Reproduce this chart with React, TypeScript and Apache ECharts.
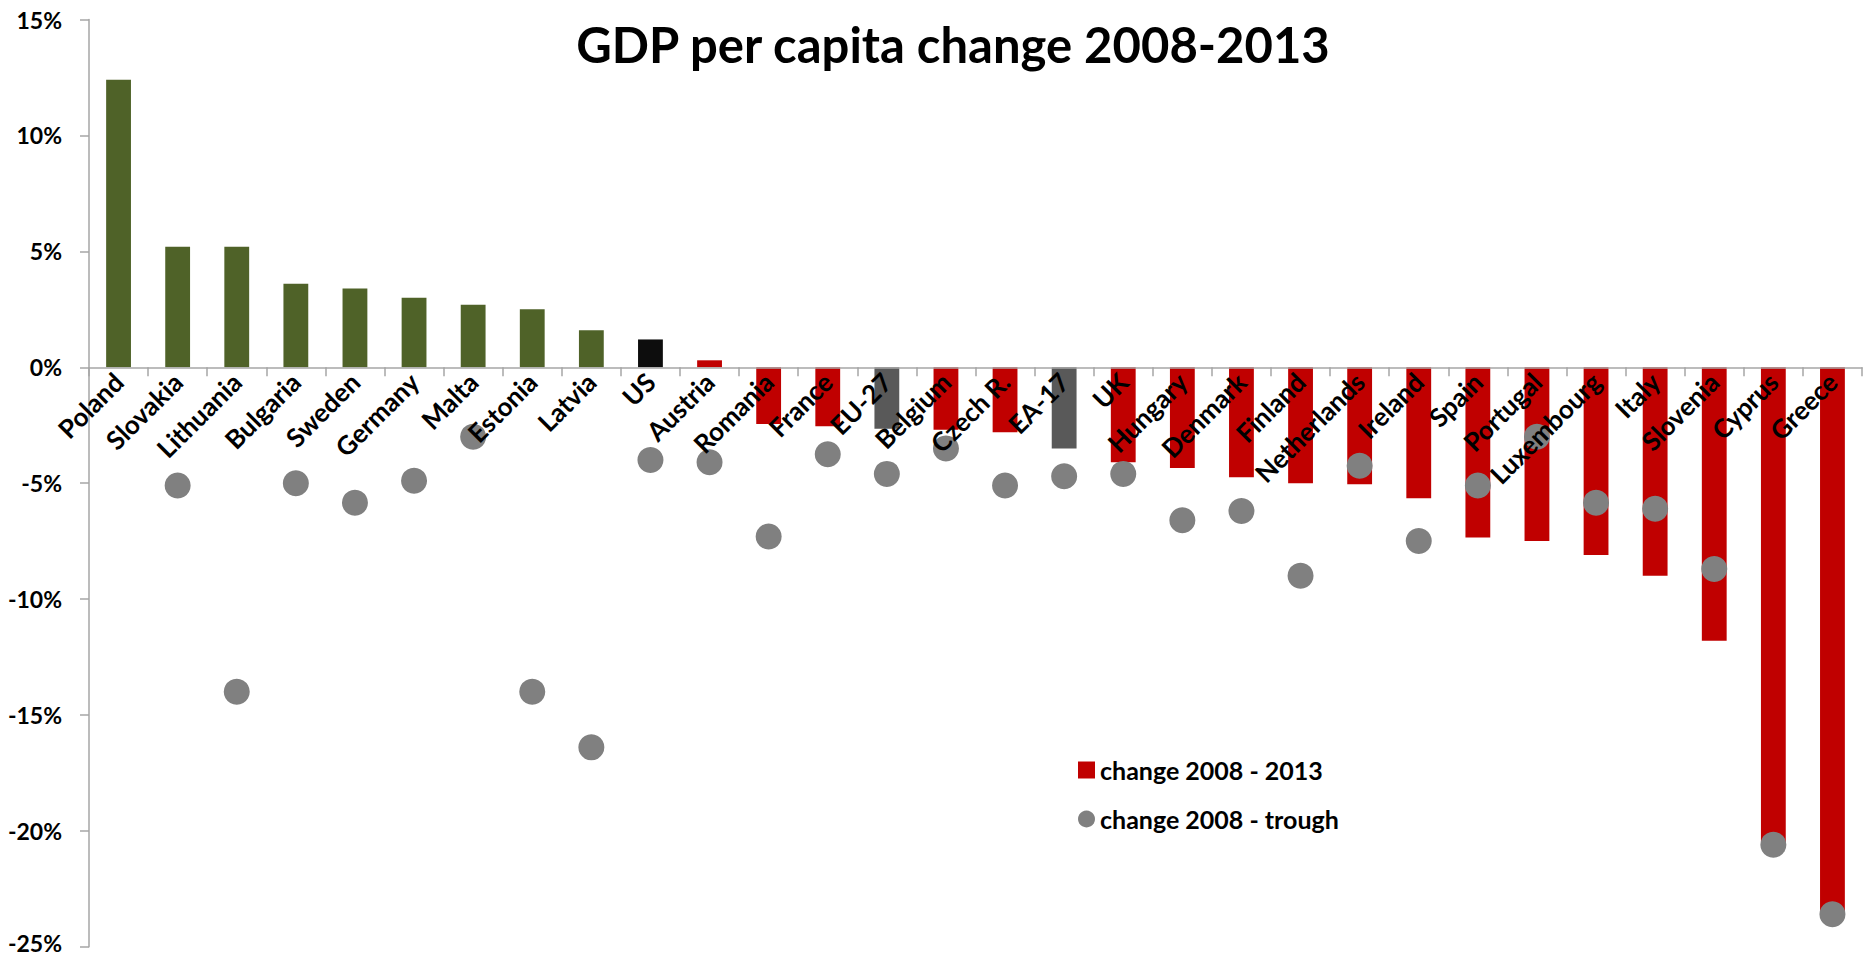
import React, { useEffect, useRef } from 'react';
import * as echarts from 'echarts';

const FONT = 'Lato, "Open Sans", "DejaVu Sans", sans-serif';

const categories = [
  'Poland', 'Slovakia', 'Lithuania', 'Bulgaria', 'Sweden', 'Germany', 'Malta', 'Estonia', 'Latvia', 'US',
  'Austria', 'Romania', 'France', 'EU-27', 'Belgium', 'Czech R.', 'EA-17', 'UK', 'Hungary', 'Denmark',
  'Finland', 'Netherlands', 'Ireland', 'Spain', 'Portugal', 'Luxembourg', 'Italy', 'Slovenia', 'Cyprus', 'Greece',
];

// change 2008 - 2013 (%)
const change2013 = [
  12.4, 5.2, 5.2, 3.6, 3.4, 3.0, 2.7, 2.5, 1.6, 1.2,
  0.3, -2.45, -2.55, -2.65, -2.7, -2.8, -3.5, -4.1, -4.35, -4.75,
  -5.0, -5.05, -5.65, -7.35, -7.5, -8.1, -9.0, -11.8, -20.5, -23.5,
];

// change 2008 - trough (%)
const trough: (number | null)[] = [
  null, -5.1, -14.0, -5.0, -5.85, -4.9, -3.0, -14.0, -16.4, -4.0,
  -4.1, -7.3, -3.75, -4.6, -3.5, -5.1, -4.7, -4.6, -6.6, -6.2,
  -9.0, -4.25, -7.5, -5.1, -3.0, -5.85, -6.1, -8.7, -20.6, -23.6,
];

const yTicks = { min: -25, max: 15, interval: 5 };

const growthCountries = ['Poland', 'Slovakia', 'Lithuania', 'Bulgaria', 'Sweden', 'Germany', 'Malta', 'Estonia', 'Latvia'];
const aggregates = ['EU-27', 'EA-17'];
const benchmarks = ['US'];

const RED = '#C00000';
const GREEN = '#4F6228';
const BLACK = '#0D0D0D';
const DARKGRAY = '#595959';
const DOT = '#808080';
const AXIS = '#A6A6A6';

const W = 1864;
const H = 956;
const GRID = { left: 89, right: 2, top: 19.6, bottom: 9.3 };

function barColor(name: string): string {
  if (growthCountries.includes(name)) return GREEN;
  if (aggregates.includes(name)) return DARKGRAY;
  if (benchmarks.includes(name)) return BLACK;
  return RED;
}

export default function App() {
  const ref = useRef<HTMLDivElement>(null);

  useEffect(() => {
    if (!ref.current) return;
    const chart = echarts.init(ref.current, null, { renderer: 'svg' });
    const gridH = H - GRID.top - GRID.bottom;
    const zeroFromBottom = ((0 - yTicks.min) / (yTicks.max - yTicks.min)) * gridH;
    const legendText = { fontFamily: FONT, fontWeight: 'bold', fontSize: 25, color: '#000', lineHeight: 30 };
    const yLabelStyle = { fontFamily: FONT, fontWeight: 'bold', fontSize: 23, lineHeight: 17, color: '#000' };
    chart.setOption({
      animation: false,
      backgroundColor: '#ffffff',
      title: {
        text: 'GDP per capita change 2008-2013',
        left: 948,
        textAlign: 'center',
        top: 14,
        textStyle: { fontFamily: FONT, fontWeight: 'bold', fontSize: 49, color: '#000' },
      },
      grid: { ...GRID, containLabel: false, outerBoundsMode: 'none' },
      legend: [
        {
          data: [{ name: 'change 2008 - 2013', icon: 'rect' }],
          left: 1073,
          top: 750,
          itemWidth: 17,
          itemHeight: 17,
          selectedMode: false,
          textStyle: legendText,
        },
        {
          data: [{ name: 'change 2008 - trough', icon: 'circle' }],
          left: 1073,
          top: 799,
          itemWidth: 17,
          itemHeight: 17,
          selectedMode: false,
          textStyle: legendText,
        },
      ],
      xAxis: {
        type: 'category',
        data: categories,
        position: 'bottom',
        offset: -zeroFromBottom,
        z: 5,
        axisLine: { show: true, onZero: false, lineStyle: { color: AXIS, width: 1.5 } },
        axisTick: { show: true, length: 9, lineStyle: { color: AXIS, width: 1.5 } },
        axisLabel: {
          rotate: 45,
          interval: 0,
          margin: 10,
          fontFamily: FONT,
          fontWeight: 'bold',
          fontSize: 26,
          color: '#000',
        },
      },
      yAxis: {
        type: 'value',
        min: yTicks.min,
        max: yTicks.max,
        interval: yTicks.interval,
        axisLine: { show: true, lineStyle: { color: AXIS, width: 1.5 } },
        axisTick: { show: true, length: 9, lineStyle: { color: AXIS, width: 1.5 } },
        splitLine: { show: false },
        axisLabel: {
          formatter: (v: number) => (v === yTicks.min ? `{low|${v}%}` : `${v}%`),
          margin: 27,
          ...yLabelStyle,
          rich: {
            low: { ...yLabelStyle, padding: [0, 0, 8, 0] },
          },
        },
      },
      series: [
        {
          name: 'change 2008 - 2013',
          type: 'bar',
          barWidth: '42%',
          itemStyle: { color: RED },
          data: change2013.map((v, i) => ({ value: v, itemStyle: { color: barColor(categories[i]) } })),
          z: 2,
        },
        {
          name: 'change 2008 - trough',
          type: 'scatter',
          symbol: 'circle',
          symbolSize: 26,
          itemStyle: { color: DOT, opacity: 1 },
          data: trough.map((v) => (v === null ? '-' : v)),
          z: 3,
        },
      ],
    });
    return () => chart.dispose();
  }, []);

  return <div ref={ref} style={{ position: 'fixed', left: 0, top: 0, width: W, height: H }} />;
}
